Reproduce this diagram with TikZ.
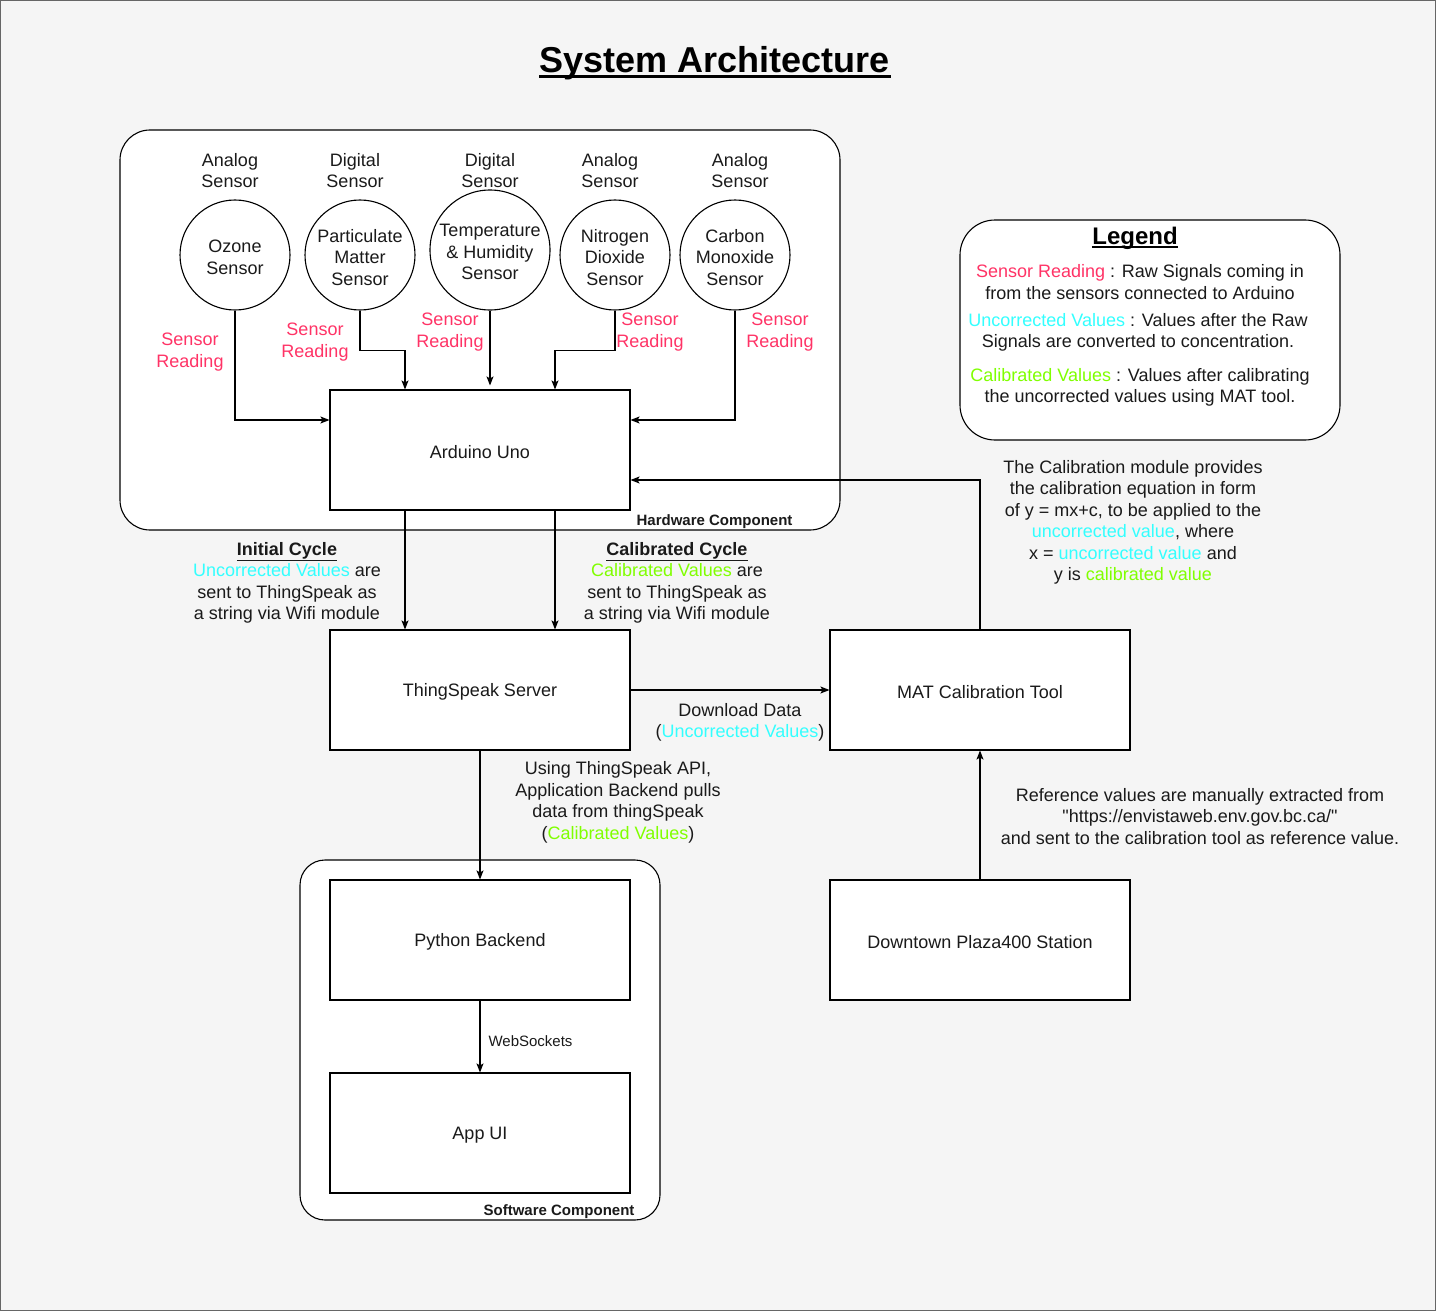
\documentclass[tikz,border=0pt]{standalone}
\usepackage{fontspec}
\setmainfont{Liberation Sans}[Ligatures=TeXOff]
\usetikzlibrary{arrows.meta}
\definecolor{sred}{HTML}{FF3366}
\definecolor{scyan}{HTML}{33FFFF}
\definecolor{sgreen}{HTML}{80FF00}
\definecolor{txt}{HTML}{1A1A1A}
\definecolor{bg}{HTML}{F5F5F5}
\definecolor{frame}{HTML}{666666}
\begin{document}
\begin{tikzpicture}[x=1pt,y=-1pt,
  font=\fontsize{18}{21.5}\selectfont, text=txt,
  line width=1.1pt, >={Stealth[length=9pt,width=7pt,inset=2pt]},
  box/.style={draw, fill=white, minimum width=300pt, minimum height=120pt, inner sep=0pt},
  circ/.style={draw, circle, fill=white, minimum size=110pt, inner sep=0pt},
  lbl/.style={align=center, inner sep=0pt, yshift=-2.2pt},
  red/.style={lbl, text=sred},
  small/.style={inner sep=0pt, font=\fontsize{15}{18}\selectfont},
  container/.style={draw, fill=white, inner sep=0pt}]
\useasboundingbox (0,0) rectangle (1436,1311);
\fill[bg] (0,0) rectangle (1436,1311);
\draw[frame, line width=1.2pt] (0.6,0.6) rectangle (1435.4,1310.4);

% title
\node[inner sep=0pt, anchor=base, font=\fontsize{36}{40}\selectfont\bfseries, text=black] (title) at (715,73) {System Architecture};
\draw[line width=3pt] ([yshift=-4pt]title.base west) -- ([yshift=-4pt]title.base east);

% containers
\node[container, rounded corners=30pt, minimum width=720pt, minimum height=400pt] (hw) at (480,330) {};
\node[container, rounded corners=25pt, minimum width=360pt, minimum height=360pt] (sw) at (480,1040) {};
\node[container, rounded corners=35pt, minimum width=380pt, minimum height=220pt] (leg) at (1150,330) {};
\node[small, font=\fontsize{15}{18}\selectfont\bfseries, anchor=east] (hwl) at (793,522) {Hardware Component};
\node[small, font=\fontsize{15}{18}\selectfont\bfseries, anchor=east] (swl) at (635,1212) {Software Component};

% sensors
\node[circ] (oz) at (235,255) {};
\node[circ] (pm) at (360,255) {};
\node[circ, minimum size=120pt] (th) at (490,250) {};
\node[circ] (no) at (615,255) {};
\node[circ] (co) at (735,255) {};
\node[lbl] (ozt) at (oz) {Ozone\\Sensor};
\node[lbl] (pmt) at (pm) {Particulate\\Matter\\Sensor};
\node[lbl] (tht) at (th) {Temperature\\\& Humidity\\Sensor};
\node[lbl] (not) at (no) {Nitrogen\\Dioxide\\Sensor};
\node[lbl] (cot) at (co) {Carbon\\Monoxide\\Sensor};

% sensor type labels
\node[lbl] (t1) at (230,168.5) {Analog\\Sensor};
\node[lbl] (t2) at (355,168.5) {Digital\\Sensor};
\node[lbl] (t3) at (490,168.5) {Digital\\Sensor};
\node[lbl] (t4) at (610,168.5) {Analog\\Sensor};
\node[lbl] (t5) at (740,168.5) {Analog\\Sensor};

% boxes
\node[box] (ard) at (480,450) {};
\node[box] (ts) at (480,690) {};
\node[box] (mat) at (980,690) {};
\node[box] (dt) at (980,940) {};
\node[box] (py) at (480,940) {};
\node[box] (app) at (480,1133) {};
\node[lbl] (ardt) at (ard) {Arduino Uno};
\node[lbl] (tst) at (ts) {ThingSpeak Server};
\node[lbl] (matt) at (mat) {MAT Calibration Tool};
\node[lbl] (dtt) at (dt) {Downtown Plaza400 Station};
\node[lbl] (pyt) at (py) {Python Backend};
\node[lbl] (appt) at (app) {App UI};

% sensor connectors
\draw[->] (oz.south) |- ([yshift=30pt]ard.west);
\draw[->] (pm.south) -- ++(0,40) -| ([xshift=-75pt]ard.north);
\draw[->] (th.south) -- ([yshift=4pt]th.south |- ard.north);
\draw[->] (no.south) -- ++(0,40) -| ([xshift=75pt]ard.north);
\draw[->] (co.south) |- ([yshift=30pt]ard.east);

\node[red] (r1) at (190,350) {Sensor\\Reading};
\node[red] (r2) at (315,340) {Sensor\\Reading};
\node[red] (r3) at (450,330) {Sensor\\Reading};
\node[red] (r4) at (650,330) {Sensor\\Reading};
\node[red] (r5) at (780,330) {Sensor\\Reading};

% main connectors
\draw[->] ([xshift=-75pt]ard.south) -- ([xshift=-75pt]ts.north);
\draw[->] ([xshift=75pt]ard.south) -- ([xshift=75pt]ts.north);
\draw[->] (ts.east) -- (mat.west);
\draw[->] (mat.north) |- ([yshift=-30pt]ard.east);
\draw[->] (dt.north) -- (mat.south);
\draw[->] (ts.south) -- (py.north);
\draw[->] (py.south) -- (app.north);

% connector labels
\node[lbl] (ic) at (287,580.5) {\textbf{\underline{Initial Cycle}}\\\textcolor{scyan}{Uncorrected Values} are\\sent to ThingSpeak as\\a string via Wifi module};
\node[lbl] (cc) at (677,580.5) {\textbf{\underline{Calibrated Cycle}}\\\textcolor{sgreen}{Calibrated Values} are\\sent to ThingSpeak as\\a string via Wifi module};
\node[lbl] (dd) at (740,720) {Download Data\\(\textcolor{scyan}{Uncorrected Values})};
\node[lbl] (api) at (618,800) {Using ThingSpeak API,\\Application Backend pulls\\data from thingSpeak\\(\textcolor{sgreen}{Calibrated Values})};
\node[lbl] (ref) at (1200,814) {Reference values are manually extracted from\\"https://envistaweb.env.gov.bc.ca/"\\and sent to the calibration tool as reference value.};
\node[lbl] (cal) at (1133,520) {The Calibration module provides\\the calibration equation in form\\of y = mx+c, to be applied to the\\\textcolor{scyan}{uncorrected value}, where\\x = \textcolor{scyan}{uncorrected value} and\\y is \textcolor{sgreen}{calibrated value}};
\node[small, anchor=west] (ws) at (488,1041) {WebSockets};

% legend
\node[inner sep=0pt, anchor=base, font=\fontsize{24}{28}\selectfont\bfseries, text=black] (legt) at (1135,244) {Legend};
\draw[line width=2pt] ([yshift=-3pt]legt.base west) -- ([yshift=-3pt]legt.base east);
\node[lbl] (l1) at (1140,280) {\textcolor{sred}{Sensor Reading} : Raw Signals coming in\\from the sensors connected to Arduino};
\node[lbl] (l2) at (1138,330) {\textcolor{scyan}{Uncorrected Values} : Values after the Raw\\Signals are converted to concentration.};
\node[lbl] (l3) at (1140,385) {\textcolor{sgreen}{Calibrated Values} : Values after calibrating\\the uncorrected values using MAT tool.};
\end{tikzpicture}
\end{document}
